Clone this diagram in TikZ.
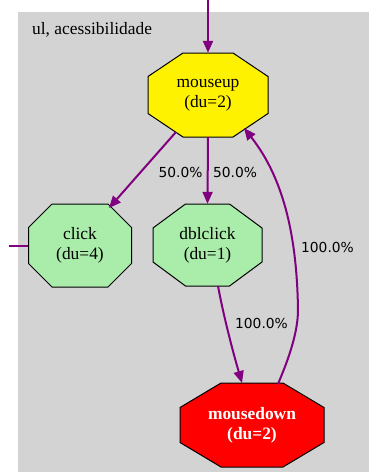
\documentclass[tikz,border=0pt]{standalone}
\usepackage{fontspec}
\setmainfont{Liberation Serif}
\newfontfamily\edgelabelfont{DejaVu Sans}
\usetikzlibrary{arrows.meta,calc}

\definecolor{arcpurple}{RGB}{128,0,128}
\definecolor{clustergray}{RGB}{211,211,211}
\definecolor{statgreen}{RGB}{170,237,170}

% Octagonal state: draws the outline, then a named text node of the same extent.
% #1 name, #2 cx, #3 cy, #4 half width, #5 half top edge, #6 half height,
% #7 half side edge, #8 style, #9 text
\newcommand{\octstate}[9]{%
  \draw[octo,#8,shift={(#2,#3)}] (-#5,-#6) -- (#5,-#6) -- (#4,-#7) -- (#4,#7)
    -- (#5,#6) -- (-#5,#6) -- (-#4,#7) -- (-#4,-#7) -- cycle;
  \node[statetext,#8,draw=none,fill=none,minimum width=2*#4,minimum height=2*#6]
    (#1) at (#2,#3) {#9};}

\tikzset{
  octo/.style={draw=black,line width=1pt},
  statetext/.style={inner sep=0pt,align=center,
    font=\fontsize{17.4}{20}\selectfont},
  hot/.style={fill=red,text=white,font=\bfseries\fontsize{17.4}{20}\selectfont},
  entry/.style={fill=yellow},
  plain/.style={fill=statgreen},
  arc/.style={draw=arcpurple,line width=2pt,-{Triangle[length=12pt,width=10pt]}},
  tail/.style={draw=arcpurple,line width=2pt},
  prob/.style={inner sep=0pt,font=\edgelabelfont\fontsize{13.8}{16}\selectfont},
}

\begin{document}
\begin{tikzpicture}[x=1pt,y=-1pt]
  \useasboundingbox (0,0) rectangle (369,472);
  \fill[white] (0,0) rectangle (369,472);
  % cluster
  \fill[clustergray] (18,12) rectangle (369,472);
  \node[anchor=base west,inner sep=0pt,font=\fontsize{17.4}{20}\selectfont]
    (cluster) at (32,34) {ul, acessibilidade};

  % states
  \octstate{mouseup}{208}{95}{60}{25}{42}{18.5}{entry}{mouseup\\(du=2)}
  \octstate{click}{80}{245.5}{51.5}{28}{41.5}{18}{plain}{click\\(du=4)}
  \octstate{dblclick}{207.5}{245}{54.5}{22}{41}{17}{plain}{dblclick\\(du=1)}
  \octstate{mousedown}{252}{425}{72}{31}{42}{17.5}{hot}{mousedown\\(du=2)}

  % loose ends
  \coordinate (start) at (208,0);
  \coordinate (outside) at (9,245.5);

  % transitions
  \draw[arc] (start) -- (mouseup.north);
  \draw[tail] (outside) -- (click.west);
  \draw[arc] ($(mouseup)+(-32,37)$) -- ($(click)+(29,-37.5)$);
  \draw[arc] (mouseup.south) -- (dblclick.north);
  \draw[arc] ($(dblclick)+(10.5,41)$) .. controls ($(dblclick)+(16.5,73)$)
    and ($(dblclick)+(25.5,107)$) .. ($(mousedown)+(-10,-42)$);
  \draw[arc] ($(mousedown)+(26,-41)$) .. controls ($(mousedown)+(34,-60)$)
    and ($(mousedown)+(46,-90)$) .. ($(mousedown)+(46,-115)$)
    .. controls ($(mousedown)+(45,-185)$) and ($(mousedown)+(33,-245)$)
    .. ($(mouseup)+(36,33)$);

  % probabilities
  \node[prob] (p1) at (180.5,172) {50.0\%};
  \node[prob] (p2) at (235,172) {50.0\%};
  \node[prob] (p3) at (261.5,323) {100.0\%};
  \node[prob] (p4) at (327.5,247) {100.0\%};
\end{tikzpicture}
\end{document}
